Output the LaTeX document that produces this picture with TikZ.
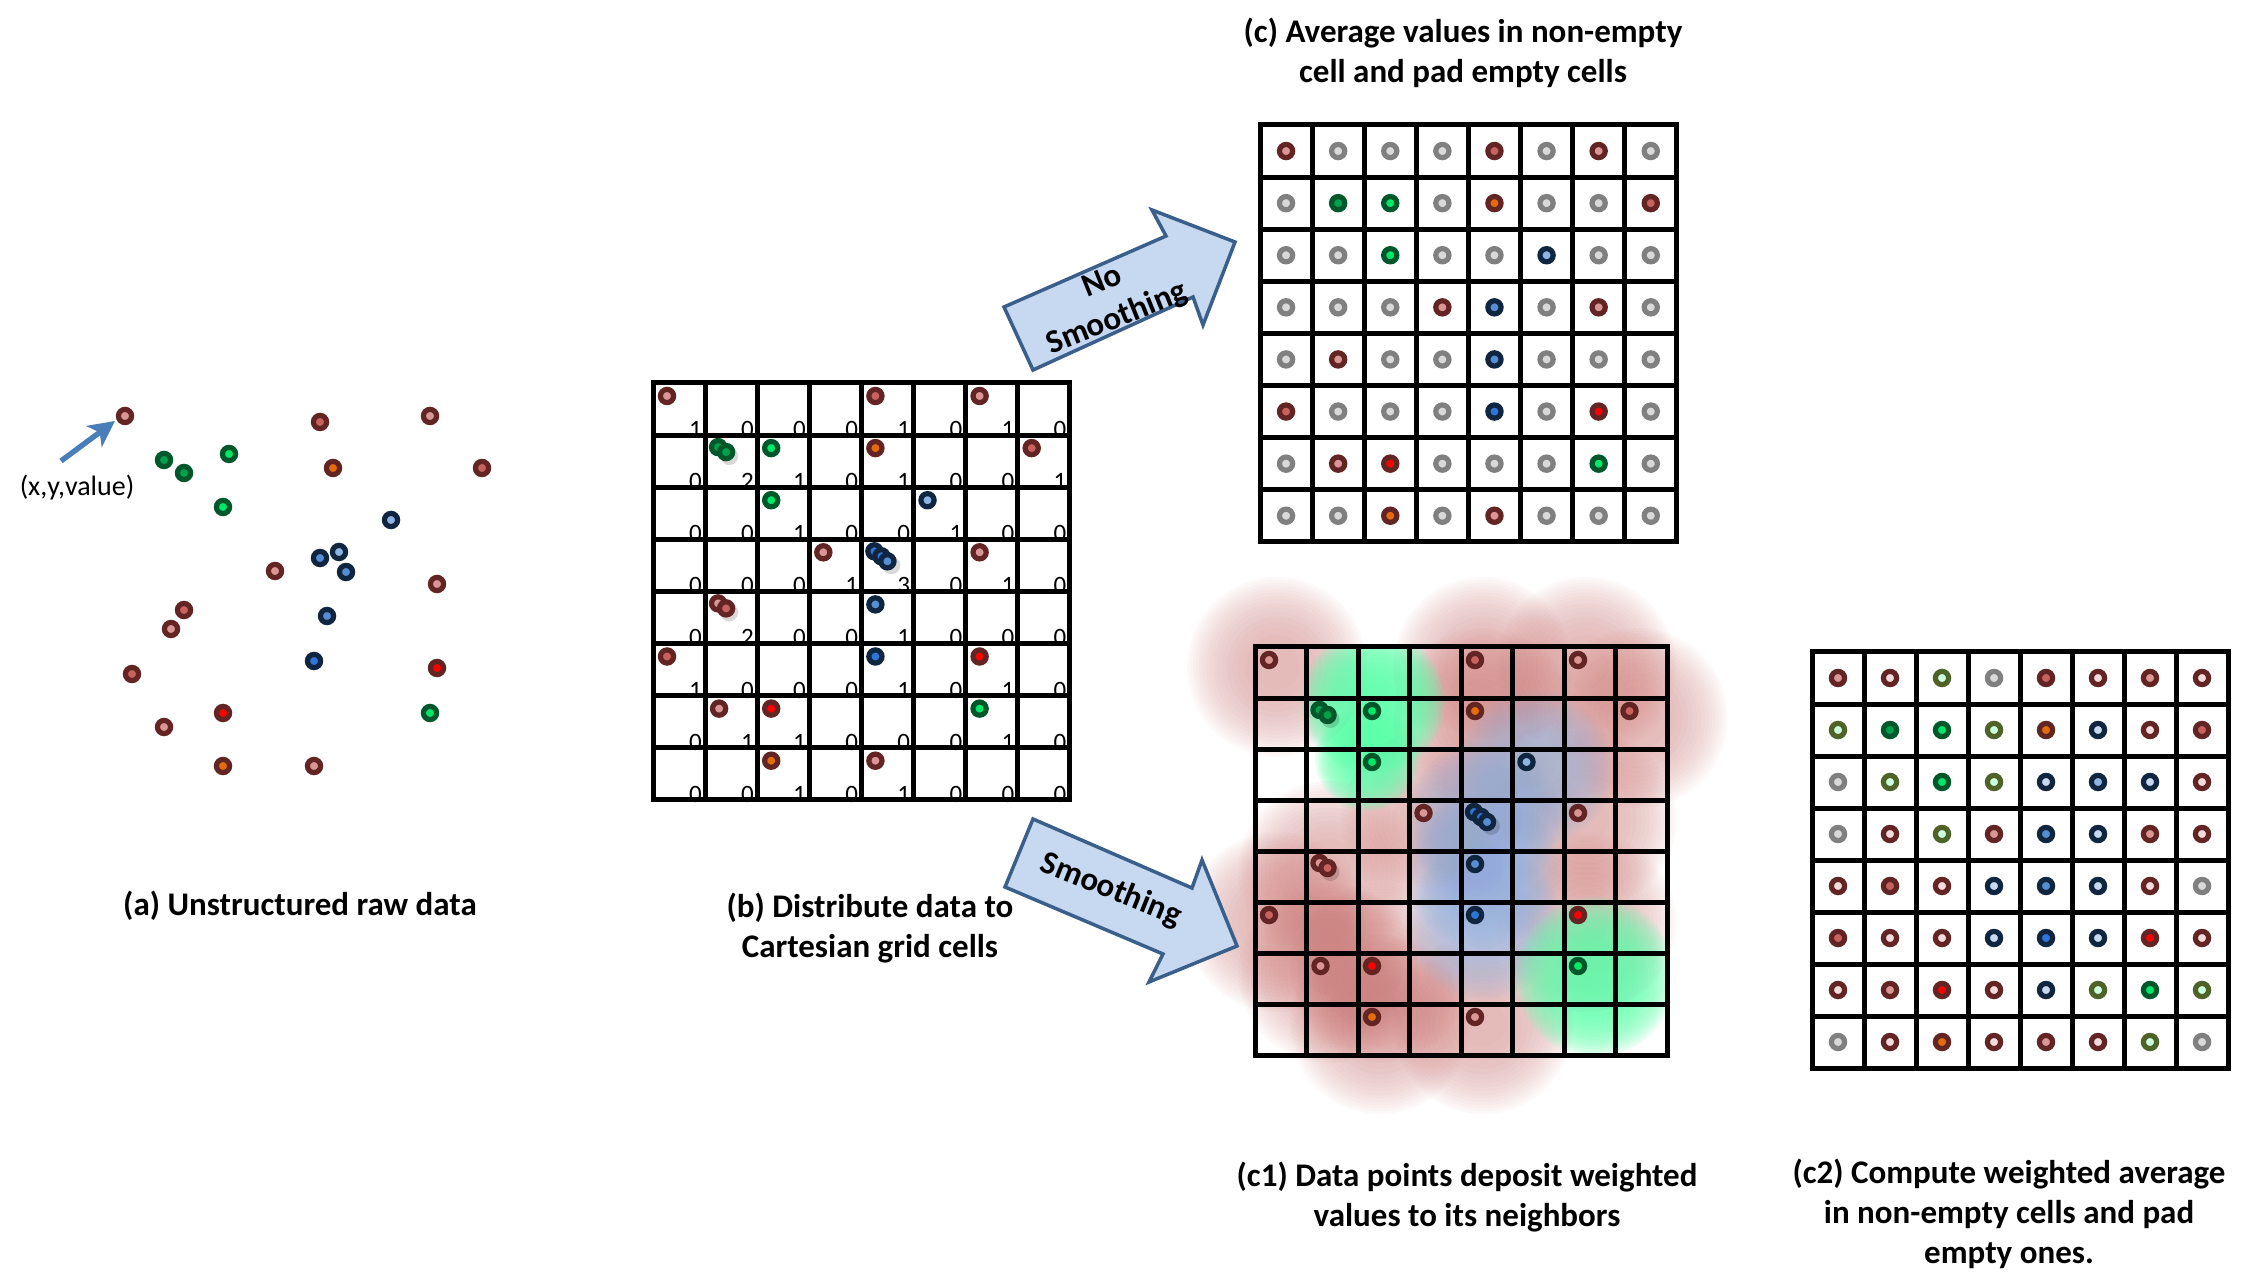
\documentclass[tikz,border=0pt]{standalone}
\usepackage{fontspec}
\setmainfont{Carlito}
\usetikzlibrary{arrows.meta}
\definecolor{rBr}{HTML}{632523}
\definecolor{rNv}{HTML}{10253F}
\definecolor{rGn}{HTML}{00582A}
\definecolor{rGy}{HTML}{808080}
\definecolor{rOl}{HTML}{4F6228}
\definecolor{iPink}{HTML}{D99694}
\definecolor{iSalm}{HTML}{C8625F}
\definecolor{iOra}{HTML}{E46C0A}
\definecolor{iRed}{HTML}{FF0000}
\definecolor{iWht}{HTML}{F2DCDB}
\definecolor{iGnD}{HTML}{00A04C}
\definecolor{iGnB}{HTML}{00E86A}
\definecolor{iNvL}{HTML}{8DB4E2}
\definecolor{iNvB}{HTML}{558ED5}
\definecolor{iNvD}{HTML}{2E75D6}
\definecolor{iNvP}{HTML}{C6D9F1}
\definecolor{iGy}{HTML}{D9D9D9}
\definecolor{iMint}{HTML}{CCFFDD}
\definecolor{arrFill}{HTML}{C6D9F1}
\definecolor{arrLine}{HTML}{3A5F8B}
\definecolor{ptrBlue}{HTML}{4A7EBB}
\definecolor{blobR}{HTML}{CD6F6D}
\definecolor{blobB}{HTML}{8EAADB}
\definecolor{blobG}{HTML}{5CFFAA}
\tikzset{
 dotst/.style={line width=2.6pt},
 brA/.style={dotst,draw=rBr,fill=iPink},
 brS/.style={dotst,draw=rBr,fill=iSalm},
 brO/.style={dotst,draw=rBr,fill=iOra},
 brR/.style={dotst,draw=rBr,fill=iRed},
 brW/.style={dotst,draw=rBr,fill=iWht},
 gD/.style={dotst,draw=rGn,fill=iGnD},
 gB/.style={dotst,draw=rGn,fill=iGnB},
 nL/.style={dotst,draw=rNv,fill=iNvL},
 nB/.style={dotst,draw=rNv,fill=iNvB},
 nD/.style={dotst,draw=rNv,fill=iNvD},
 nP/.style={dotst,draw=rNv,fill=iNvP},
 gr/.style={dotst,draw=rGy,fill=iGy},
 ol/.style={dotst,draw=rOl,fill=iMint},
 gl/.style={line width=2.5pt, line cap=rect},
 lbl/.style={font=\fontsize{16.5}{20}\selectfont\bfseries, align=center, inner sep=0pt},
 num/.style={font=\fontsize{12.5}{14}\selectfont, inner sep=0pt, anchor=base east},
 blk/.style={fill=arrFill, draw=arrLine, line width=1.75pt, line join=miter},
}
\newcommand\mydot[3]{\draw[#3] ({#1},{#2}) circle (6.6);}
% x, y, colour, opacity per layer, radius (flat-topped soft profile)
\newcommand\myblob[5]{\foreach \k in {1,...,16}{\fill[#3,opacity=#4] ({#1},{#2}) circle ({#5*sqrt(\k/16)});}}
\newcommand\gridlines[2]{%
  \foreach \i in {0,...,8}{%
    \draw[gl] ({\i*#1},0) -- ({\i*#1},{8*#2});
    \draw[gl] (0,{\i*#2}) -- ({8*#1},{\i*#2});}}
\newcommand\drawpts[2]{%
  \foreach \c/\r/\dx/\dy in {2/2/24/21, 5/4/30/26, 2/5/24/21}
    \fill[black,opacity=0.15] ({(\c-1)*#1+\dx},{(\r-1)*#2+\dy}) circle (9);
  \foreach \c/\r/\tp/\dx/\dy in {1/1/brA/14/13, 5/1/brS/14/13, 7/1/brA/14/13,
     2/2/gD/13/12, 2/2/gD/21/17, 3/2/gB/14/13, 5/2/brO/14/13, 8/2/brS/14/13,
     3/3/gB/14/13, 6/3/nL/14/13,
     4/4/brA/14/13, 5/4/nD/13/12, 5/4/nD/20/17, 5/4/nB/26/22, 7/4/brA/14/13,
     2/5/brA/13/12, 2/5/brS/21/17, 5/5/nB/14/13,
     1/6/brS/14/13, 5/6/nD/14/13, 7/6/brR/14/13,
     2/7/brA/14/13, 3/7/brR/14/13, 7/7/gB/14/13,
     3/8/brO/14/13, 5/8/brA/14/13}
    {\mydot{(\c-1)*#1+\dx}{(\r-1)*#2+\dy}{\tp}}}
\begin{document}
\begin{tikzpicture}[x=0.5pt,y=-0.5pt]
\useasboundingbox (0,0) rectangle (2247,1277);
\fill[white] (0,0) rectangle (2247,1277);

% ---------- (a) raw data ----------
\foreach \x/\y/\tp in {125/416/brA, 320/422/brS, 430/416/brA, 164/460/gD, 184/473/gD,
  229/454/gB, 333/468/brO, 482/468/brS, 223/507/gB, 391/520/nL, 320/558/nB,
  339/552/nL, 346/572/nB, 275/571/brA, 437/584/brA, 184/610/brS, 171/629/brA,
  327/616/nB, 314/661/nD, 132/674/brS, 437/668/brR, 223/713/brR, 430/713/gB,
  164/727/brA, 223/766/brO, 314/766/brA}
  {\mydot{\x}{\y}{\tp}}
\node[font=\fontsize{14}{16}\selectfont, inner sep=0pt] (xy) at (77,488) {(x,y,value)};
\coordinate (xyt) at (61,461);
\coordinate (xyh) at (115,421);
\draw[ptrBlue, line width=2.7pt, -{Stealth[length=13pt,width=13pt,inset=3.5pt]}] (xyt) -- (xyh);
\node[lbl] (la) at (300,906) {(a) Unstructured raw data};

% ---------- (b) distribute to grid ----------
\begin{scope}[shift={(653,383)}]
  \foreach \rowv [count=\r] in {{1,0,0,0,1,0,1,0},{0,2,1,0,1,0,0,1},{0,0,1,0,0,1,0,0},
     {0,0,0,1,3,0,1,0},{0,2,0,0,1,0,0,0},{1,0,0,0,1,0,1,0},{0,1,1,0,0,0,1,0},{0,0,1,0,1,0,0,0}}
    \foreach \n [count=\c] in \rowv
      \node[num] (b-\r-\c) at ({\c*52.1-3},{\r*52.1+2.5}) {\n};
  \gridlines{52.1}{52.1}
  \drawpts{52.1}{52.1}
\end{scope}
\node[lbl] (lb) at (870,928) {(b) Distribute data to\\Cartesian grid cells};

% ---------- (c) no smoothing ----------
\begin{scope}[shift={(1260,125)}]
  \gridlines{52.1}{52.1}
  \foreach \rowv [count=\r] in {{brA,gr,gr,gr,brS,gr,brA,gr},{gr,gD,gB,gr,brO,gr,gr,brS},
     {gr,gr,gB,gr,gr,nL,gr,gr},{gr,gr,gr,brA,nB,gr,brA,gr},{gr,brA,gr,gr,nB,gr,gr,gr},
     {brS,gr,gr,gr,nD,gr,brR,gr},{gr,brA,brR,gr,gr,gr,gB,gr},{gr,gr,brO,gr,brA,gr,gr,gr}}
    \foreach \tp [count=\c] in \rowv
      {\mydot{(\c-0.5)*52.1}{(\r-0.5)*52.1}{\tp}}
\end{scope}
\node[lbl] (lc) at (1463,53) {(c) Average values in non-empty\\cell and pad empty cells};

% ---------- (c1) smoothing deposit ----------
\begin{scope}[shift={(1255,647)}]
  \foreach \c/\r in {1/1,5/1,7/1,5/2,8/2,4/4,7/4,2/5,1/6,7/6,2/7,3/7,3/8,5/8}
    {\myblob{(\c-1)*51.5+22}{(\r-1)*51+20}{blobR}{0.035}{90}}
  \begin{scope}
    \clip (0,0) rectangle (412,408);
    \foreach \c/\r in {6/3,5/4,5/5,5/6}
      {\myblob{(\c-1)*51.5+22}{(\r-1)*51+20}{blobB}{0.06}{78}}
    \myblob{118}{55}{blobG}{0.13}{72}
    \myblob{112}{112}{blobG}{0.11}{52}
    \myblob{340}{330}{blobG}{0.11}{80}
  \end{scope}
  \gridlines{51.5}{51}
  \drawpts{51.5}{51}
\end{scope}
\node[lbl] (lc1) at (1467,1197) {(c1) Data points deposit weighted\\values to its neighbors};

% ---------- (c2) weighted average ----------
\begin{scope}[shift={(1812,652)}]
  \gridlines{52}{52}
  \foreach \rowv [count=\r] in {{brA,brW,ol,gr,brS,brW,brA,brW},{ol,gD,gB,ol,brO,nP,brW,brS},
     {gr,ol,gB,ol,nP,nL,nP,brW},{gr,brW,ol,brA,nB,nP,brA,brW},{brW,brS,brW,nP,nB,nP,brW,gr},
     {brS,brW,brW,nP,nD,nP,brR,brW},{brW,brA,brR,brW,nP,ol,gB,ol},{gr,brW,brO,brW,brA,brW,ol,gr}}
    \foreach \tp [count=\c] in \rowv
      {\mydot{(\c-0.5)*52}{(\r-0.5)*52}{\tp}}
\end{scope}
\node[lbl] (lc2) at (2009,1214) {(c2) Compute weighted average\\in non-empty cells and pad\\empty ones.};

% ---------- block arrows ----------
\draw[blk] (1033,370) -- (1004,307) -- (1166,236) -- (1152,210) -- (1235,242) -- (1203,325) -- (1193,297) -- cycle;
\node[lbl, rotate=22] (ns) at (1110,301) {No\\Smoothing};
\draw[blk] (1033,819) -- (1192,888) -- (1202,860) -- (1237,946) -- (1149,982) -- (1163,954) -- (1005,887) -- cycle;
\node[lbl, rotate=-22] (sm) at (1111,890) {Smoothing};
\end{tikzpicture}
\end{document}
